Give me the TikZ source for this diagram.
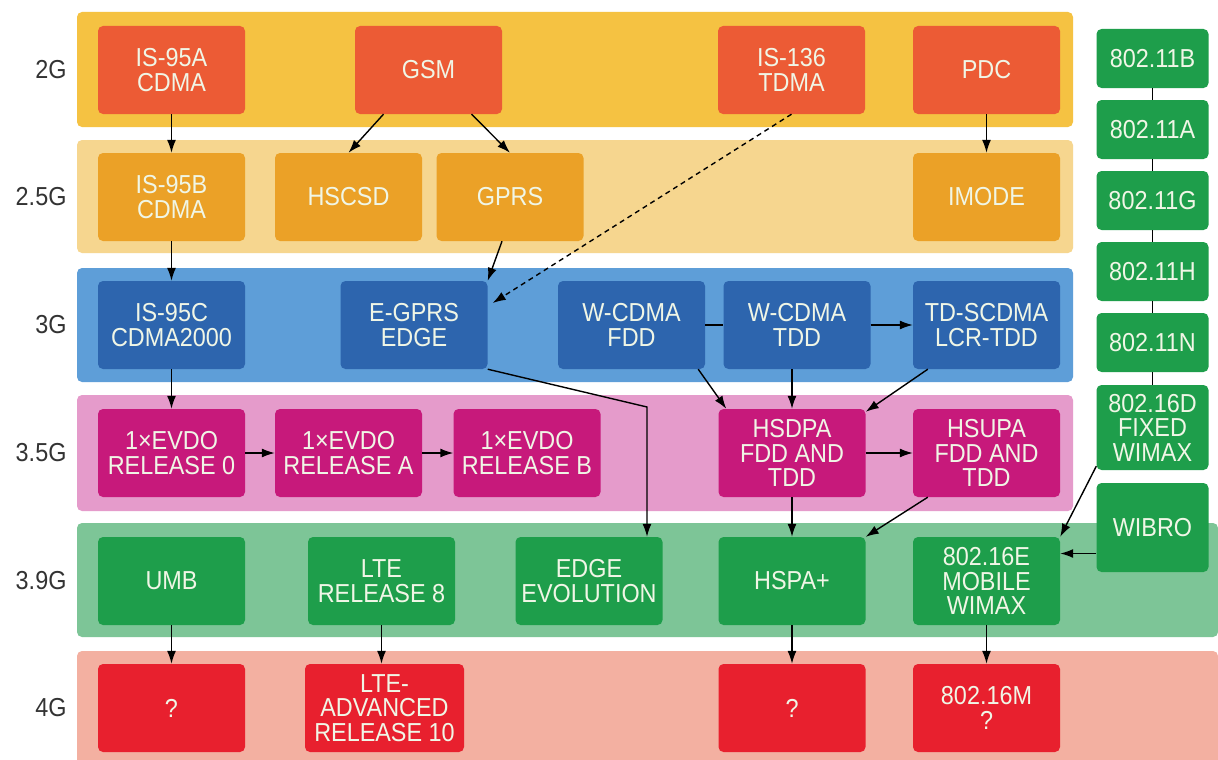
\documentclass[tikz,border=0pt]{standalone}
\usepackage{fontspec}
\setmainfont{Liberation Sans}
\newfontfamily\cellfont[FakeStretch=0.9]{Liberation Sans}
\usepackage{tikz}
\usetikzlibrary{arrows.meta}
\definecolor{band2g}{RGB}{245,194,66}
\definecolor{cell2g}{RGB}{236,91,53}
\definecolor{band25g}{RGB}{246,214,143}
\definecolor{cell25g}{RGB}{235,161,39}
\definecolor{band3g}{RGB}{94,158,216}
\definecolor{cell3g}{RGB}{45,101,174}
\definecolor{band35g}{RGB}{229,155,203}
\definecolor{cell35g}{RGB}{199,25,123}
\definecolor{band39g}{RGB}{125,197,151}
\definecolor{cell39g}{RGB}{30,158,75}
\definecolor{band4g}{RGB}{243,176,161}
\definecolor{cell4g}{RGB}{232,32,46}
\definecolor{celltext}{RGB}{240,246,230}
\definecolor{gentext}{RGB}{51,51,51}

\begin{document}
\begin{tikzpicture}[x=1pt, y=-1pt,
    cell/.style={rounded corners=5pt, minimum width=147pt, minimum height=88pt,
        inner sep=0pt, align=center, text=celltext,
        font=\cellfont\fontsize{26}{24.5}\selectfont},
    wifi/.style={cell, fill=cell39g, minimum width=112pt, minimum height=59pt},
    gen/.style={anchor=east, text=gentext, font=\cellfont\fontsize{26}{26}\selectfont},
    arr/.style={-{Latex[length=13pt, width=9pt]}, line width=1.4pt},
    link/.style={line width=1.4pt}]
                \useasboundingbox (0,0) rectangle (1218,760);
                \fill[white] (0,0) rectangle (1218,760);

                % Bands
                \fill[band2g, rounded corners=5pt] (77,12) rectangle (1073,127);
                \fill[band25g, rounded corners=5pt] (77,140) rectangle (1073,253);
                \fill[band3g, rounded corners=5pt] (77,268) rectangle (1073,382);
                \fill[band35g, rounded corners=5pt] (77,395) rectangle (1073,511);
                \fill[band39g, rounded corners=5pt] (77,523) rectangle (1218,637);
                \fill[band4g, rounded corners=5pt] (77,651) rectangle (1218,770);

                % Generation labels
                \node[gen] (lbl2g) at (70,70) {2G};
                \node[gen] (lbl25g) at (70,197) {2.5G};
                \node[gen] (lbl3g) at (70,325) {3G};
                \node[gen] (lbl35g) at (70,453) {3.5G};
                \node[gen] (lbl39g) at (70,581) {3.9G};
                \node[gen] (lbl4g) at (70,708) {4G};

                % 2G
                \node[cell, fill=cell2g] (is95a) at (171.5,70) {IS-95A\\CDMA};
                \node[cell, fill=cell2g] (gsm) at (428.5,70) {GSM};
                \node[cell, fill=cell2g] (is136) at (791.5,70) {IS-136\\TDMA};
                \node[cell, fill=cell2g] (pdc) at (986.5,70) {PDC};

                % 2.5G
                \node[cell, fill=cell25g] (is95b) at (171.5,197) {IS-95B\\CDMA};
                \node[cell, fill=cell25g] (hscsd) at (348.5,197) {HSCSD};
                \node[cell, fill=cell25g] (gprs) at (510,197) {GPRS};
                \node[cell, fill=cell25g] (imode) at (986.5,197) {IMODE};

                % 3G
                \node[cell, fill=cell3g] (is95c) at (171.5,325) {IS-95C\\CDMA2000};
                \node[cell, fill=cell3g] (egprs) at (414,325) {E-GPRS\\EDGE};
                \node[cell, fill=cell3g] (wcdmafdd) at (631.5,325) {W-CDMA\\FDD};
                \node[cell, fill=cell3g] (wcdmatdd) at (797,325) {W-CDMA\\TDD};
                \node[cell, fill=cell3g] (tdscdma) at (986.5,325) {TD-SCDMA\\LCR-TDD};

                % 3.5G
                \node[cell, fill=cell35g] (evdo0) at (171.5,453) {1×EVDO\\RELEASE 0};
                \node[cell, fill=cell35g] (evdoa) at (348.5,453) {1×EVDO\\RELEASE A};
                \node[cell, fill=cell35g] (evdob) at (527,453) {1×EVDO\\RELEASE B};
                \node[cell, fill=cell35g] (hsdpa) at (792,453) {HSDPA\\FDD AND\\TDD};
                \node[cell, fill=cell35g] (hsupa) at (986.5,453) {HSUPA\\FDD AND\\TDD};

                % 3.9G
                \node[cell, fill=cell39g] (umb) at (171.5,581) {UMB};
                \node[cell, fill=cell39g] (lte8) at (381.5,581) {LTE\\RELEASE 8};
                \node[cell, fill=cell39g] (edgeevo) at (589,581) {EDGE\\EVOLUTION};
                \node[cell, fill=cell39g] (hspap) at (792,581) {HSPA+};
                \node[cell, fill=cell39g] (wimaxe) at (986.5,581) {802.16E\\MOBILE\\WIMAX};

                % 4G
                \node[cell, fill=cell4g] (q1) at (171.5,708) {?};
                \node[cell, fill=cell4g, minimum width=159pt] (ltea) at (384.5,708) {LTE-\\ADVANCED\\RELEASE 10};
                \node[cell, fill=cell4g] (q2) at (792,708) {?};
                \node[cell, fill=cell4g] (wimaxm) at (986.5,708) {802.16M\\?};

                % Wireless column
                \node[wifi] (wb) at (1152.5,58.5) {802.11B};
                \node[wifi] (wa) at (1152.5,129.5) {802.11A};
                \node[wifi] (wg) at (1152.5,200.5) {802.11G};
                \node[wifi] (wh) at (1152.5,271.5) {802.11H};
                \node[wifi] (wn) at (1152.5,342.5) {802.11N};
                \node[wifi, minimum height=85pt] (wimaxd) at (1152.5,427.5) {802.16D\\FIXED\\WIMAX};
                \node[wifi, minimum height=89pt] (wibro) at (1152.5,527.5) {WIBRO};

                \draw[link] (wb) -- (wa) -- (wg) -- (wh) -- (wn) -- (wimaxd);

                % Arrows
                \draw[arr] (is95a) -- (is95b);
                \draw[arr] (is95b) -- (is95c);
                \draw[arr] (is95c) -- (evdo0);
                \draw[arr] ([xshift=-45pt]gsm.south) -- (hscsd.north);
                \draw[arr] ([xshift=43pt]gsm.south) -- (gprs.north);
                \draw[arr] (pdc) -- (imode);
                \draw[arr, dash pattern=on 5pt off 4pt] (is136.south) -- ([xshift=5pt, yshift=22pt]egprs.east);
                \draw[arr] ([xshift=-8pt]gprs.south) -- (egprs.north east);
                \coordinate (bend) at (647,407);
                \draw[arr] (egprs.south east) -- (bend) -- (bend |- edgeevo.north);
                \draw[link] (wcdmafdd) -- (wcdmatdd);
                \draw[arr] (wcdmatdd) -- (tdscdma);
                \draw[arr] ([xshift=-7pt]wcdmafdd.south east) -- ([xshift=8pt]hsdpa.north west);
                \draw[arr] (hsdpa.north |- wcdmatdd.south) -- (hsdpa.north);
                \draw[arr] ([xshift=15pt]tdscdma.south west) -- ([yshift=-3pt]hsdpa.north east);
                \draw[arr] (evdo0) -- (evdoa);
                \draw[arr] (evdoa) -- (evdob);
                \draw[arr] (hsdpa) -- (hsupa);
                \draw[arr] (hsdpa) -- (hspap);
                \draw[arr] ([xshift=15pt]hsupa.south west) -- (hspap.north east);
                \draw[arr] ([yshift=4pt]wimaxd.south west) -- (wimaxe.north east);
                \draw[arr] ([yshift=-26pt]wibro.west) -- ([yshift=-26pt]wibro.west -| wimaxe.east);
                \draw[arr] (umb) -- (q1);
                \draw[arr] (lte8.south) -- (lte8.south |- ltea.north);
                \draw[arr] (hspap) -- (q2);
                \draw[arr] (wimaxe) -- (wimaxm);
            \end{tikzpicture}
\end{document}
